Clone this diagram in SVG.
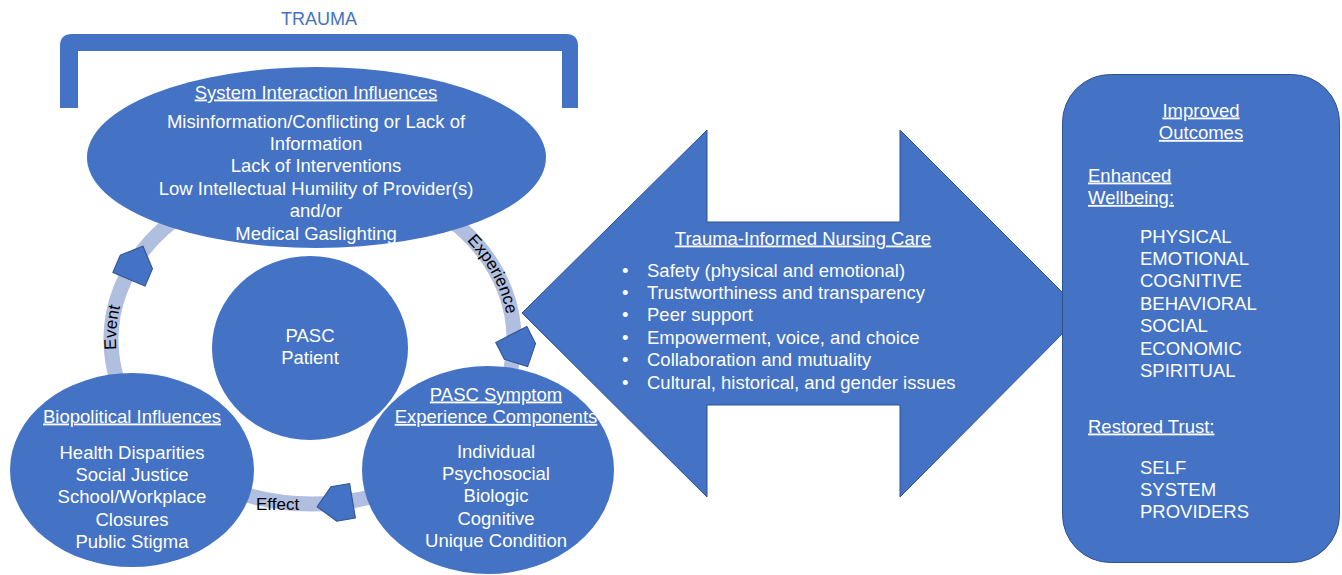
<svg xmlns="http://www.w3.org/2000/svg" xmlns:xlink="http://www.w3.org/1999/xlink" width="1342" height="575" viewBox="0 0 1342 575">
<style>
  .shape { fill: #4472C4; }
  .outl { fill: #4472C4; stroke: #2F528F; stroke-width: 1; }
  .t { font-family: "Liberation Sans", Arial, sans-serif; font-size: 18.5px; fill: #FFFFFF; }
  .c { text-anchor: middle; }
  .u { text-decoration: underline; }
  .band { fill: none; stroke: #B0BEE0; stroke-width: 15; }
  .lbl { font-family: "Liberation Sans", Arial, sans-serif; font-size: 17px; fill: #000000; }
  .ah { fill: #4472C4; stroke: #2F528F; stroke-width: 1; }
</style>
<defs>
  <polygon id="ah" points="-18,-17.5 1,-17.5 18,0 1,17.5 -18,17.5"/>
  <path id="pEvent" d="M130.3,399.3 A196.5,159.5 0 0 1 142.3,259.75"/>
  <path id="pExp" d="M438.8,217.3 A196.5,159.5 0 0 1 508.5,350.6"/>
</defs>

<g id="trauma">
  <path class="shape" d="M60,108 L60,46 Q60,34 72,34 L566,34 Q578,34 578,46 L578,108 L562,108 L562,51 L78,51 L78,108 Z"/>
  <text class="c" x="319" y="24.5" style="font-family:'Liberation Sans',Arial,sans-serif;font-size:18px;fill:#4472C4">TRAUMA</text>
</g>

<g id="connectors">
  <path class="band" d="M138,421.8 A201.5,164.5 0 0 1 227.3,190.4"/>
  <path class="band" d="M397.7,190.4 A201.5,164.5 0 0 1 487,421.8"/>
  <path class="band" d="M466.9,445.2 A201.5,164.5 0 0 1 158.1,445.2"/>
</g>

<g id="care">
  <polygon class="outl" points="522,313 707,130 707,222 900,222 900,130 1083,313 900,497 900,405 707,405 707,497"/>
  <text class="t c u" x="803" y="244.5">Trauma-Informed Nursing Care</text>
  <g class="t">
    <text x="622" y="276.5">•</text><text x="647" y="276.5">Safety (physical and emotional)</text>
    <text x="622" y="298.9">•</text><text x="647" y="298.9">Trustworthiness and transparency</text>
    <text x="622" y="321.3">•</text><text x="647" y="321.3">Peer support</text>
    <text x="622" y="343.7">•</text><text x="647" y="343.7">Empowerment, voice, and choice</text>
    <text x="622" y="366.1">•</text><text x="647" y="366.1">Collaboration and mutuality</text>
    <text x="622" y="388.5">•</text><text x="647" y="388.5">Cultural, historical, and gender issues</text>
  </g>
</g>

<g id="system">
  <ellipse class="shape" cx="316.5" cy="157.5" rx="229.5" ry="90.5"/>
  <text class="t c u" x="316" y="98.5">System Interaction Influences</text>
  <text class="t c" x="316" y="127.5">Misinformation/Conflicting or Lack of</text>
  <text class="t c" x="316" y="149.9">Information</text>
  <text class="t c" x="316" y="172.3">Lack of Interventions</text>
  <text class="t c" x="316" y="194.7">Low Intellectual Humility of Provider(s)</text>
  <text class="t c" x="316" y="217.1">and/or</text>
  <text class="t c" x="316" y="239.5">Medical Gaslighting</text>
</g>

<g id="patient">
  <ellipse class="shape" cx="310" cy="348" rx="98" ry="92"/>
  <text class="t c" x="310" y="341.5">PASC</text>
  <text class="t c" x="310" y="363.9">Patient</text>
</g>

<g id="biopolitical">
  <ellipse class="shape" cx="132" cy="470" rx="122" ry="97"/>
  <text class="t c u" x="132" y="422.5">Biopolitical Influences</text>
  <text class="t c" x="132" y="458.5">Health Disparities</text>
  <text class="t c" x="132" y="480.9">Social Justice</text>
  <text class="t c" x="132" y="503.3">School/Workplace</text>
  <text class="t c" x="132" y="525.7">Closures</text>
  <text class="t c" x="132" y="548.1">Public Stigma</text>
</g>

<g id="symptom">
  <ellipse class="shape" cx="488" cy="470" rx="126" ry="104"/>
  <text class="t c u" x="496" y="400.5">PASC Symptom</text>
  <text class="t c u" x="496" y="422.9">Experience Components</text>
  <text class="t c" x="496" y="457.5">Individual</text>
  <text class="t c" x="496" y="479.9">Psychosocial</text>
  <text class="t c" x="496" y="502.3">Biologic</text>
  <text class="t c" x="496" y="524.7">Cognitive</text>
  <text class="t c" x="496" y="547.1">Unique Condition</text>
</g>

<g id="outcomes">
  <rect class="outl" x="1062.5" y="74.5" width="277" height="488" rx="48" ry="48"/>
  <text class="t c u" x="1201" y="116.5">Improved</text>
  <text class="t c u" x="1201" y="138.9">Outcomes</text>
  <text class="t u" x="1088" y="181.5">Enhanced</text>
  <text class="t u" x="1088" y="203.9">Wellbeing:</text>
  <text class="t" x="1140" y="242.5">PHYSICAL</text>
  <text class="t" x="1140" y="264.9">EMOTIONAL</text>
  <text class="t" x="1140" y="287.3">COGNITIVE</text>
  <text class="t" x="1140" y="309.7">BEHAVIORAL</text>
  <text class="t" x="1140" y="332.1">SOCIAL</text>
  <text class="t" x="1140" y="354.5">ECONOMIC</text>
  <text class="t" x="1140" y="376.9">SPIRITUAL</text>
  <text class="t u" x="1088" y="432.5">Restored Trust:</text>
  <text class="t" x="1140" y="473.5">SELF</text>
  <text class="t" x="1140" y="495.9">SYSTEM</text>
  <text class="t" x="1140" y="518.3">PROVIDERS</text>
</g>

<g id="connector-heads">
  <use href="#ah" class="ah" transform="translate(136,262.8) rotate(-67)"/>
  <use href="#ah" class="ah" transform="translate(519.5,350.5) rotate(63)"/>
  <use href="#ah" class="ah" transform="translate(334.8,503.8) rotate(170.5)"/>
  <text class="lbl"><textPath href="#pEvent" startOffset="50%" text-anchor="middle">Event</textPath></text>
  <text class="lbl"><textPath href="#pExp" startOffset="50%" text-anchor="middle">Experience</textPath></text>
  <text class="lbl" x="256" y="509.5">Effect</text>
</g>
</svg>
